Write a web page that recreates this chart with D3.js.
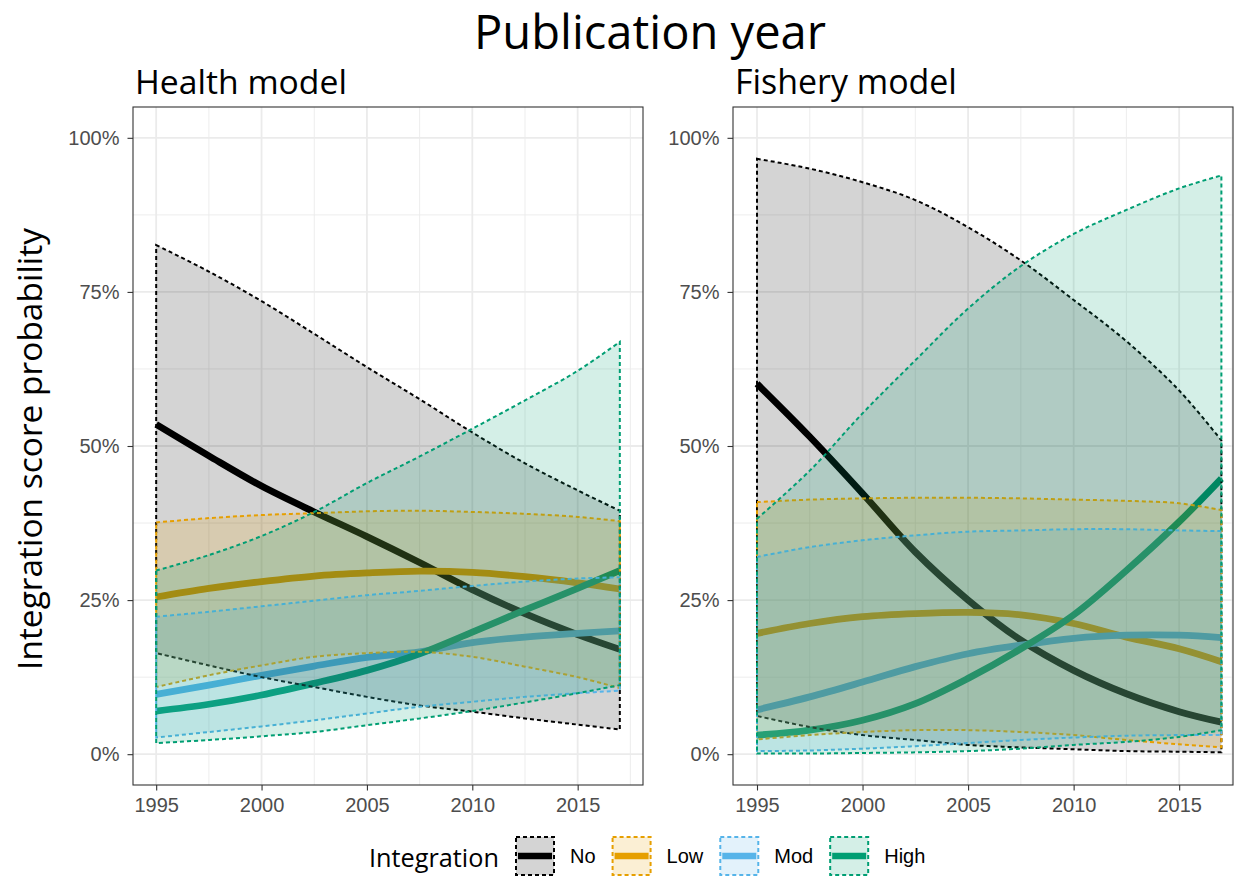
<!DOCTYPE html>
<html>
<head>
<meta charset="utf-8">
<script src="https://cdn.jsdelivr.net/npm/d3@7"></script>
<style>
  body { margin: 0; background: #ffffff; }
  svg { display: block; }
</style>
</head>
<body>
<svg id="chart" width="1248" height="877"></svg>
<script>
// ---- data -------------------------------------------------------------
const years = [1995, 1997.5, 2000, 2002.5, 2005, 2007.5, 2010, 2012.5, 2015, 2017];
const levels = ["No", "Low", "Mod", "High"];
const levelColors = ["#000000", "#E69F00", "#56B4E9", "#009E73"];
const panelTitles = ["Health model", "Fishery model"];
const yTicks = [0, 25, 50, 75, 100];
const yTickLabels = ["0%", "25%", "50%", "75%", "100%"];
const xTicks = [1995, 2000, 2005, 2010, 2015];
const xTickLabels = ["1995", "2000", "2005", "2010", "2015"];

// Health model: fitted probability (%) with lower / upper interval bounds
const healthNoFit   = [53.5, 48.4, 43.5, 39.3, 35.3, 31.1, 26.7, 22.8, 19.4, 17.0];
const healthNoLo    = [16.4, 14.4, 12.5, 10.9, 9.3, 7.9, 6.9, 5.8, 4.8, 4.0];
const healthNoHi    = [82.6, 78.3, 73.5, 68.2, 62.8, 57.6, 52.2, 47.2, 42.8, 39.5];
const healthLowFit  = [25.5, 26.9, 28.0, 28.9, 29.4, 29.7, 29.5, 28.8, 27.8, 26.8];
const healthLowLo   = [10.9, 12.8, 14.4, 15.8, 16.4, 16.6, 15.8, 14.2, 12.5, 10.7];
const healthLowHi   = [37.6, 38.3, 38.8, 39.1, 39.4, 39.5, 39.3, 39.0, 38.5, 37.8];
const healthModFit  = [9.7, 11.2, 12.8, 14.3, 15.7, 16.6, 18.1, 19.0, 19.6, 20.0];
const healthModLo   = [2.7, 3.6, 4.5, 5.5, 6.6, 7.7, 8.5, 9.3, 9.9, 10.3];
const healthModHi   = [22.3, 23.1, 24.0, 24.9, 25.8, 26.5, 27.3, 28.0, 28.5, 28.7];
const healthHighFit = [7.0, 8.1, 9.6, 11.5, 13.6, 16.3, 19.8, 23.4, 26.9, 29.8];
const healthHighLo  = [1.8, 2.3, 2.9, 3.6, 4.7, 5.8, 7.0, 8.4, 9.9, 11.2];
const healthHighHi  = [29.8, 32.3, 35.4, 39.3, 44.0, 48.3, 52.8, 57.4, 62.2, 66.9];

// Fishery model
const fishNoFit   = [60.1, 51.5, 42.3, 32.8, 25.0, 18.5, 13.6, 9.8, 6.9, 5.2];
const fishNoLo    = [6.2, 4.4, 3.1, 2.3, 1.5, 1.1, 0.8, 0.5, 0.4, 0.3];
const fishNoHi    = [96.6, 95.0, 92.8, 89.9, 85.5, 80.1, 73.7, 67.0, 59.0, 50.9];
const fishLowFit  = [19.6, 21.2, 22.3, 22.8, 23.0, 22.6, 21.2, 19.0, 17.1, 15.0];
const fishLowLo   = [2.4, 3.1, 3.6, 3.9, 3.9, 3.6, 3.1, 2.3, 1.6, 1.1];
const fishLowHi   = [40.9, 41.3, 41.5, 41.6, 41.6, 41.5, 41.3, 41.1, 40.7, 39.6];
const fishModFit  = [7.2, 9.3, 11.7, 14.2, 16.3, 17.7, 18.8, 19.3, 19.3, 18.9];
const fishModLo   = [0.5, 0.6, 0.9, 1.3, 1.8, 2.3, 2.7, 3.0, 3.1, 3.1];
const fishModHi   = [32.0, 33.6, 34.7, 35.5, 36.1, 36.3, 36.5, 36.5, 36.3, 36.2];
const fishHighFit = [3.1, 3.9, 5.5, 8.2, 12.3, 17.1, 22.6, 29.8, 37.7, 44.7];
const fishHighLo  = [0.1, 0.1, 0.2, 0.3, 0.5, 0.9, 1.5, 2.0, 2.8, 3.9];
const fishHighHi  = [38.2, 46.0, 55.3, 63.9, 72.3, 79.2, 84.4, 88.3, 91.8, 93.9];

// ---- assemble per-panel series ---------------------------------------
function series(fit, lo, hi) {
  return years.map((yr, i) => ({ year: yr, fit: fit[i], lo: lo[i], hi: hi[i] }));
}
const panelData = [
  [series(healthNoFit, healthNoLo, healthNoHi), series(healthLowFit, healthLowLo, healthLowHi),
   series(healthModFit, healthModLo, healthModHi), series(healthHighFit, healthHighLo, healthHighHi)],
  [series(fishNoFit, fishNoLo, fishNoHi), series(fishLowFit, fishLowLo, fishLowHi),
   series(fishModFit, fishModLo, fishModHi), series(fishHighFit, fishHighLo, fishHighHi)]
];

// ---- layout -----------------------------------------------------------
const svg = d3.select("#chart");
const panelTop = 107, panelBottom = 785;
const panels = [
  { x0: 133, x1: 643, domain: [1993.9, 2018.1] },
  { x0: 733, x1: 1233, domain: [1993.863, 2017.55] }
];
const y = d3.scaleLinear().domain([-5, 105]).range([panelBottom, panelTop]);
const color = d3.scaleOrdinal().domain(levels).range(levelColors);
const ribbonAlpha = 0.17;
const curve = d3.curveCatmullRom.alpha(0.5);
const tickFont = "'Liberation Sans', Arial, sans-serif";
const headFont = "'Open Sans', 'DejaVu Sans', sans-serif";

function fitText(sel, target) {
  const fs = parseFloat(sel.attr("font-size"));
  const w = sel.node().getComputedTextLength();
  sel.attr("font-size", fs * target / w);
}

svg.append("rect").attr("width", 1248).attr("height", 877).attr("fill", "#ffffff");

panels.forEach((p, pi) => {
  const x = d3.scaleLinear().domain(p.domain).range([p.x0, p.x1]);
  const g = svg.append("g");

  // panel background and grid
  g.append("rect").attr("x", p.x0).attr("y", panelTop)
    .attr("width", p.x1 - p.x0).attr("height", panelBottom - panelTop).attr("fill", "#ffffff");

  const minorX = d3.range(1997.5, 2018, 5).filter(v => x(v) < p.x1);
  const minorY = [12.5, 37.5, 62.5, 87.5];
  g.selectAll(".gx-minor").data(minorX).join("line")
    .attr("x1", d => x(d)).attr("x2", d => x(d)).attr("y1", panelTop).attr("y2", panelBottom)
    .attr("stroke", "#EBEBEB").attr("stroke-width", 0.9);
  g.selectAll(".gy-minor").data(minorY).join("line")
    .attr("y1", d => y(d)).attr("y2", d => y(d)).attr("x1", p.x0).attr("x2", p.x1)
    .attr("stroke", "#EBEBEB").attr("stroke-width", 0.9);
  g.selectAll(".gx-major").data(xTicks).join("line")
    .attr("x1", d => x(d)).attr("x2", d => x(d)).attr("y1", panelTop).attr("y2", panelBottom)
    .attr("stroke", "#EBEBEB").attr("stroke-width", 1.8);
  g.selectAll(".gy-major").data(yTicks).join("line")
    .attr("y1", d => y(d)).attr("y2", d => y(d)).attr("x1", p.x0).attr("x2", p.x1)
    .attr("stroke", "#EBEBEB").attr("stroke-width", 1.8);

  const data = panelData[pi];

  // fitted lines first, ribbons drawn over them
  const line = d3.line().x(d => x(d.year)).y(d => y(d.fit)).curve(curve);
  data.forEach((s, li) => {
    g.append("path").attr("d", line(s)).attr("fill", "none")
      .attr("stroke", color(levels[li])).attr("stroke-width", 6.8);
  });

  const area = d3.area().x(d => x(d.year)).y0(d => y(d.lo)).y1(d => y(d.hi)).curve(curve);
  data.forEach((s, li) => {
    g.append("path").attr("d", area(s))
      .attr("fill", color(levels[li])).attr("fill-opacity", ribbonAlpha)
      .attr("stroke", color(levels[li])).attr("stroke-width", 2)
      .attr("stroke-dasharray", "4,3");
  });

  // panel border
  g.append("rect").attr("x", p.x0).attr("y", panelTop)
    .attr("width", p.x1 - p.x0).attr("height", panelBottom - panelTop)
    .attr("fill", "none").attr("stroke", "#333333").attr("stroke-width", 1.1);

  // axes
  const yAxis = d3.axisLeft(y).tickValues(yTicks).tickFormat((d, i) => yTickLabels[i])
    .tickSize(5.5).tickPadding(8);
  const ya = g.append("g").attr("transform", `translate(${p.x0},0)`).call(yAxis);
  const xAxis = d3.axisBottom(x).tickValues(xTicks).tickFormat((d, i) => xTickLabels[i])
    .tickSize(5.5).tickPadding(7);
  const xa = g.append("g").attr("transform", `translate(0,${panelBottom})`).call(xAxis);
  [ya, xa].forEach(a => {
    a.select(".domain").remove();
    a.selectAll(".tick line").attr("stroke", "#333333").attr("stroke-width", 1.1);
    a.selectAll(".tick text").attr("fill", "#4D4D4D").attr("font-size", 20)
      .attr("font-family", tickFont);
  });

  // panel title
  const t = svg.append("text").text(panelTitles[pi])
    .attr("x", p.x0 + 2).attr("y", 94)
    .attr("font-family", headFont).attr("font-size", 30).attr("fill", "#000000");
  fitText(t, pi === 0 ? 212 : 222);
});

// main title
const title = svg.append("text").text("Publication year")
  .attr("x", 474).attr("y", 49)
  .attr("font-family", headFont).attr("font-size", 40).attr("fill", "#000000");
fitText(title, 352);

// y axis title
const yTitle = svg.append("text").text("Integration score probability")
  .attr("transform", "translate(42,449) rotate(-90)").attr("text-anchor", "middle")
  .attr("font-family", headFont).attr("font-size", 28).attr("fill", "#000000");
fitText(yTitle, 442);

// legend
const legTitle = svg.append("text").text("Integration")
  .attr("x", 369).attr("y", 867)
  .attr("font-family", headFont).attr("font-size", 26).attr("fill", "#000000");
fitText(legTitle, 130);

const keySize = 40, keyTop = 836;
let kx = 515;
levels.forEach((lv, i) => {
  const c = color(lv);
  svg.append("rect").attr("x", kx + 1).attr("y", keyTop + 1)
    .attr("width", keySize - 2).attr("height", keySize - 2)
    .attr("fill", c).attr("fill-opacity", ribbonAlpha)
    .attr("stroke", c).attr("stroke-width", 2).attr("stroke-dasharray", "4,3");
  svg.append("line").attr("x1", kx + 3).attr("x2", kx + keySize - 3)
    .attr("y1", keyTop + keySize / 2).attr("y2", keyTop + keySize / 2)
    .attr("stroke", c).attr("stroke-width", 6.5);
  const lab = svg.append("text").text(lv)
    .attr("x", kx + keySize + 15).attr("y", keyTop + keySize / 2 + 7)
    .attr("font-family", tickFont).attr("font-size", 20).attr("fill", "#000000");
  kx += keySize + 15 + lab.node().getComputedTextLength() + 16;
});
</script>
</body>
</html>
